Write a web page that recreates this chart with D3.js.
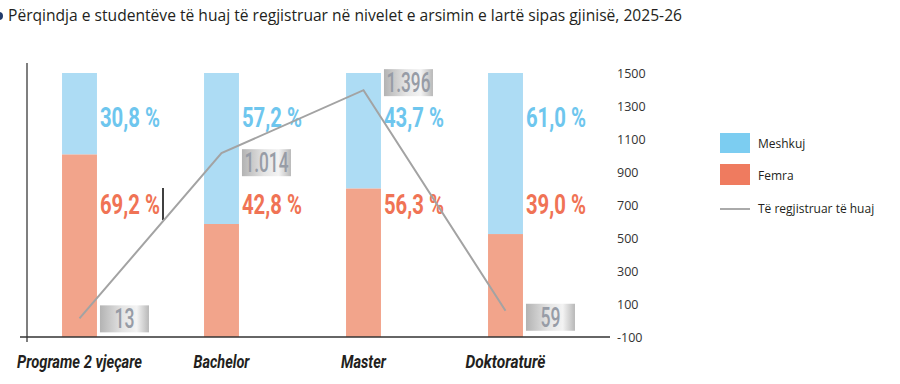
<!DOCTYPE html>
<html>
<head>
<meta charset="utf-8">
<script src="https://cdn.jsdelivr.net/npm/d3@7"></script>
<style>
  html, body { margin: 0; padding: 0; background: #fff; }
  svg { display: block; }
</style>
</head>
<body>
<svg id="chart" width="900" height="384"></svg>
<script>
// Foreign students by level and gender, 2025-26
const categories = ["Programe 2 vjeçare", "Bachelor", "Master", "Doktoraturë"];
const femalePct = [69.2, 42.8, 56.3, 39.0];
const malePct = [30.8, 57.2, 43.7, 61.0];
const registered = [13, 1014, 1396, 59];
const countTicks = [-100, 100, 300, 500, 700, 900, 1100, 1300, 1500];

const fmtPct = v => d3.format(".1f")(v).replace(".", ",") + " %";
const fmtCount = v => v >= 1000 ? d3.format(",")(v).replace(",", ".") : String(v);

const svg = d3.select("#chart");
const plotTop = 73, plotBottom = 337;

const x = d3.scaleBand().domain(categories).range([20, 565]).paddingInner(0.754).paddingOuter(0.296);
const yPct = d3.scaleLinear().domain([0, 100]).range([plotBottom, plotTop]);
const yCount = d3.scaleLinear().domain([-100, 1500]).range([plotBottom, plotTop]);

// title (bullet cut off at the left edge)
svg.append("circle").attr("cx", -1).attr("cy", 16).attr("r", 4).attr("fill", "#1f3a6b");
svg.append("text")
  .attr("x", 8).attr("y", 21)
  .attr("textLength", 674).attr("lengthAdjust", "spacingAndGlyphs")
  .style("font", "15.5px 'Open Sans', sans-serif").attr("fill", "#231f20")
  .text("Përqindja e studentëve të huaj të regjistruar në nivelet e arsimin e lartë sipas gjinisë, 2025-26");

// bars: female at the bottom, male on top
const bars = svg.append("g");
bars.selectAll(".f").data(categories).join("rect")
  .attr("x", d => x(d)).attr("width", x.bandwidth())
  .attr("y", (d, i) => yPct(femalePct[i]))
  .attr("height", (d, i) => yPct(0) - yPct(femalePct[i]))
  .attr("fill", "#f2a48b");
bars.selectAll(".m").data(categories).join("rect")
  .attr("x", d => x(d)).attr("width", x.bandwidth())
  .attr("y", (d, i) => yPct(femalePct[i] + malePct[i]))
  .attr("height", (d, i) => yPct(femalePct[i]) - yPct(femalePct[i] + malePct[i]))
  .attr("fill", "#addcf4");

// axes lines
svg.append("line").attr("x1", 27).attr("x2", 27).attr("y1", 63).attr("y2", 342)
  .attr("stroke", "#555").attr("stroke-width", 1.5);
svg.append("line").attr("x1", 20).attr("x2", 610).attr("y1", plotBottom).attr("y2", plotBottom)
  .attr("stroke", "#333").attr("stroke-width", 1.5);

// percentage labels
const pctFont = "bold 28px Roboto, sans-serif";
svg.append("g").selectAll("text").data(categories).join("text")
  .attr("x", d => x(d) + x.bandwidth() + 3).attr("y", 127)
  .attr("textLength", 60).attr("lengthAdjust", "spacingAndGlyphs")
  .style("font", pctFont).attr("fill", "#6ec6ee")
  .text((d, i) => fmtPct(malePct[i]));
svg.append("g").selectAll("text").data(categories).join("text")
  .attr("x", d => x(d) + x.bandwidth() + 3).attr("y", 214)
  .attr("textLength", 60).attr("lengthAdjust", "spacingAndGlyphs")
  .style("font", pctFont).attr("fill", "#f07355")
  .text((d, i) => fmtPct(femalePct[i]));

// stray text cursor in the original
svg.append("line").attr("x1", 163).attr("x2", 163).attr("y1", 188).attr("y2", 220)
  .attr("stroke", "#000").attr("stroke-width", 1.5);

// line of registered foreign students
const cx = d => x(d) + x.bandwidth() / 2;
const line = d3.line().x((d, i) => cx(categories[i])).y(d => yCount(d));
svg.append("path").datum(registered)
  .attr("d", line).attr("fill", "none")
  .attr("stroke", "#a3a3a3").attr("stroke-width", 2);

// metallic value boxes
const grad = svg.append("defs").append("linearGradient").attr("id", "metal");
[[0, "#b3b3b3"], [0.45, "#e4e4e4"], [0.75, "#f3f3f3"], [1, "#b8b8b8"]]
  .forEach(([o, c]) => grad.append("stop").attr("offset", o).attr("stop-color", c));

const labelDy = [0, 9, -8, 6];
const boxes = svg.append("g").selectAll("g").data(registered).join("g")
  .attr("transform", (d, i) => `translate(${x(categories[i]) + x.bandwidth() + 3},${yCount(d) + labelDy[i] - 13})`);
boxes.append("rect").attr("width", 49).attr("height", 27).attr("fill", "url(#metal)");
boxes.append("text")
  .attr("x", 24.5).attr("y", 23).attr("text-anchor", "middle")
  .attr("textLength", d => d >= 1000 ? 44 : 20).attr("lengthAdjust", "spacingAndGlyphs")
  .style("font", "500 27px Roboto, sans-serif")
  .attr("fill", "#979ca6")
  .text(fmtCount);

// category labels
const catWidths = [125, 56, 45, 80];
svg.append("g").selectAll("text").data(categories).join("text")
  .attr("x", d => cx(d)).attr("y", 368).attr("text-anchor", "middle")
  .attr("textLength", (d, i) => catWidths[i]).attr("lengthAdjust", "spacingAndGlyphs")
  .style("font", "italic bold 18px Roboto, sans-serif").attr("fill", "#231f20")
  .text(d => d);

// right axis
const yAxis = d3.axisRight(yCount).tickValues(countTicks).tickSize(0).tickPadding(0).tickFormat(d => String(d));
const ag = svg.append("g").attr("transform", "translate(617,0)").call(yAxis);
ag.select(".domain").remove();
ag.selectAll("text").style("font", "12.5px 'Open Sans', sans-serif").attr("fill", "#333").attr("dy", "0.35em");

// legend
const legend = svg.append("g").attr("transform", "translate(720,133)");
legend.append("rect").attr("width", 30).attr("height", 20).attr("fill", "#7ccdf1");
legend.append("text").attr("x", 38).attr("y", 15).text("Meshkuj");
legend.append("rect").attr("y", 31).attr("width", 30).attr("height", 21).attr("fill", "#ef7b5f");
legend.append("text").attr("x", 38).attr("y", 47).text("Femra");
legend.append("line").attr("x1", 0).attr("x2", 30).attr("y1", 76).attr("y2", 76)
  .attr("stroke", "#aaa").attr("stroke-width", 2);
legend.append("text").attr("x", 38).attr("y", 80).text("Të regjistruar të huaj");
legend.selectAll("text").style("font", "12px 'Open Sans', sans-serif").attr("fill", "#231f20");
</script>
</body>
</html>
